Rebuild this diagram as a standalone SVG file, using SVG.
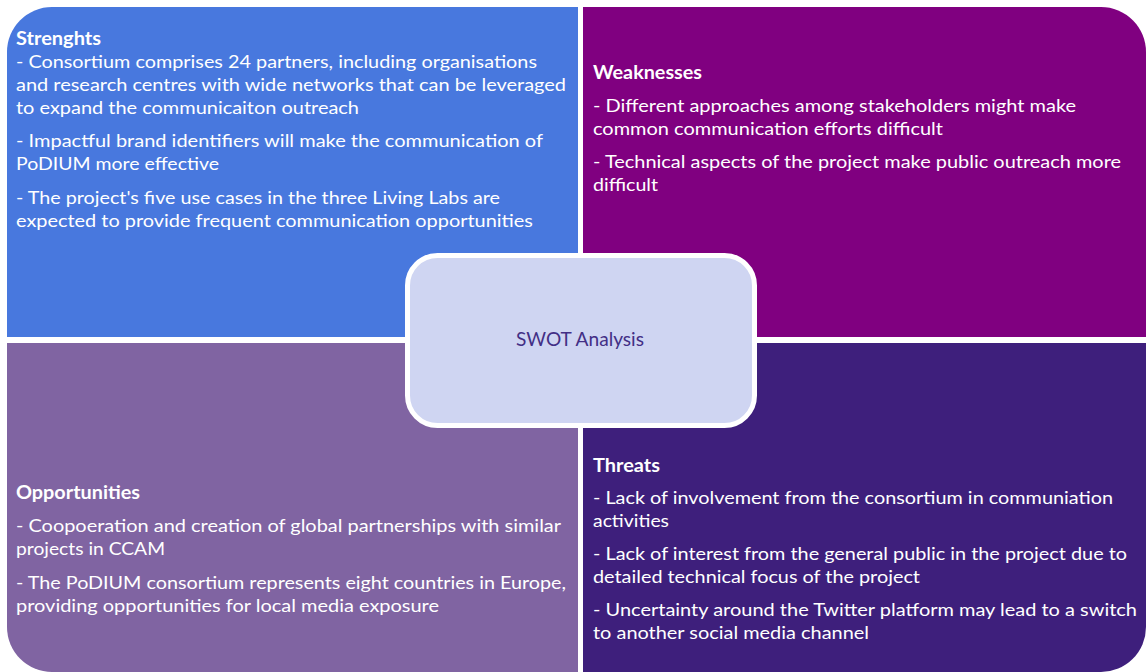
<svg xmlns="http://www.w3.org/2000/svg" width="1146" height="672" viewBox="0 0 1146 672">
  <style>
    .body { font-family: Lato, "Open Sans", "Liberation Sans", sans-serif; font-size: 17.5px; fill: #ffffff; }
    .head { font-family: Lato, "Open Sans", "Liberation Sans", sans-serif; font-size: 18px; font-weight: bold; fill: #ffffff; }
    .center { font-family: Lato, "Open Sans", "Liberation Sans", sans-serif; font-size: 19px; fill: #432f86; }
  </style>
  <rect x="0" y="0" width="1146" height="672" fill="#ffffff"/>

  <!-- Strengths quadrant -->
  <g id="strengths">
    <path d="M7 337 V52 A45 45 0 0 1 52 7 H578 V337 Z" fill="#4878de"/>
    <text class="head" x="16" y="45" textLength="85" lengthAdjust="spacingAndGlyphs">Strenghts</text>
    <text class="body" x="16" y="68" textLength="521" lengthAdjust="spacingAndGlyphs">- Consortium comprises 24 partners, including organisations</text>
    <text class="body" x="16" y="91" textLength="550" lengthAdjust="spacingAndGlyphs">and research centres with wide networks that can be leveraged</text>
    <text class="body" x="16" y="114" textLength="343" lengthAdjust="spacingAndGlyphs">to expand the communicaiton outreach</text>
    <text class="body" x="16" y="147" textLength="527" lengthAdjust="spacingAndGlyphs">- Impactful brand identifiers will make the communication of</text>
    <text class="body" x="16" y="170" textLength="203" lengthAdjust="spacingAndGlyphs">PoDIUM more effective</text>
    <text class="body" x="16" y="204" textLength="484" lengthAdjust="spacingAndGlyphs">- The project's five use cases in the three Living Labs are</text>
    <text class="body" x="16" y="227" textLength="517" lengthAdjust="spacingAndGlyphs">expected to provide frequent communication opportunities</text>
  </g>

  <!-- Weaknesses quadrant -->
  <g id="weaknesses">
    <path d="M583 7 H1101 A45 45 0 0 1 1146 52 V337 H583 Z" fill="#800080"/>
    <text class="head" x="593" y="79" textLength="109" lengthAdjust="spacingAndGlyphs">Weaknesses</text>
    <text class="body" x="593" y="112" textLength="483" lengthAdjust="spacingAndGlyphs">- Different approaches among stakeholders might make</text>
    <text class="body" x="593" y="135" textLength="350" lengthAdjust="spacingAndGlyphs">common communication efforts difficult</text>
    <text class="body" x="593" y="168" textLength="528" lengthAdjust="spacingAndGlyphs">- Technical aspects of the project make public outreach more</text>
    <text class="body" x="593" y="191" textLength="65" lengthAdjust="spacingAndGlyphs">difficult</text>
  </g>

  <!-- Opportunities quadrant -->
  <g id="opportunities">
    <path d="M7 343 H578 V672 H52 A45 45 0 0 1 7 627 Z" fill="#8064a2"/>
    <text class="head" x="16" y="499" textLength="124" lengthAdjust="spacingAndGlyphs">Opportunities</text>
    <text class="body" x="16" y="532" textLength="545" lengthAdjust="spacingAndGlyphs">- Coopoeration and creation of global partnerships with similar</text>
    <text class="body" x="16" y="555" textLength="149" lengthAdjust="spacingAndGlyphs">projects in CCAM</text>
    <text class="body" x="16" y="589" textLength="550" lengthAdjust="spacingAndGlyphs">- The PoDIUM consortium represents eight countries in Europe,</text>
    <text class="body" x="16" y="612" textLength="423" lengthAdjust="spacingAndGlyphs">providing opportunities for local media exposure</text>
  </g>

  <!-- Threats quadrant -->
  <g id="threats">
    <path d="M583 343 H1146 V627 A45 45 0 0 1 1101 672 H583 Z" fill="#3e1f7c"/>
    <text class="head" x="593" y="472" textLength="67" lengthAdjust="spacingAndGlyphs">Threats</text>
    <text class="body" x="593" y="504" textLength="520" lengthAdjust="spacingAndGlyphs">- Lack of involvement from the consortium in communiation</text>
    <text class="body" x="593" y="527" textLength="76" lengthAdjust="spacingAndGlyphs">activities</text>
    <text class="body" x="593" y="560" textLength="534" lengthAdjust="spacingAndGlyphs">- Lack of interest from the general public in the project due to</text>
    <text class="body" x="593" y="583" textLength="327" lengthAdjust="spacingAndGlyphs">detailed technical focus of the project</text>
    <text class="body" x="593" y="616" textLength="544" lengthAdjust="spacingAndGlyphs">- Uncertainty around the Twitter platform may lead to a switch</text>
    <text class="body" x="593" y="639" textLength="276" lengthAdjust="spacingAndGlyphs">to another social media channel</text>
  </g>

  <!-- Central label -->
  <g id="swot-analysis">
    <rect x="407.5" y="255.5" width="347" height="170" rx="30" ry="30" fill="#cfd5f2" stroke="#ffffff" stroke-width="5"/>
    <text class="center" x="580" y="346" text-anchor="middle" textLength="128" lengthAdjust="spacingAndGlyphs">SWOT Analysis</text>
  </g>

  <g id="connectors"/>
</svg>
